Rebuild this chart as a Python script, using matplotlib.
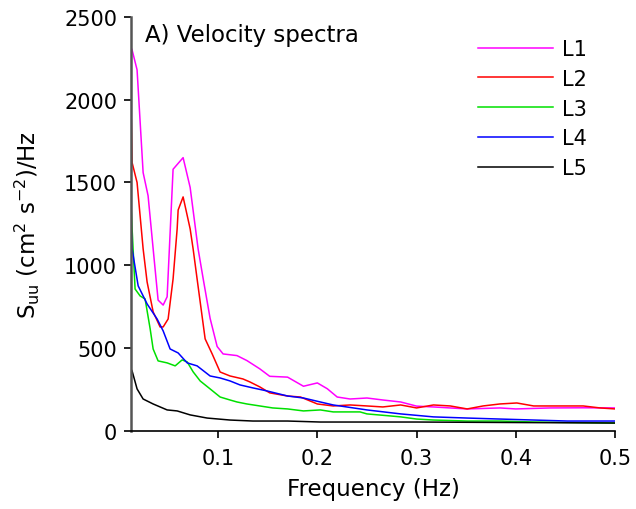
import matplotlib
matplotlib.use("Agg")
import matplotlib.pyplot as plt

plt.rcParams['font.family'] = ['DejaVu Sans']
plt.rcParams['mathtext.default'] = 'regular'

# spectra (frequency in Hz, S_uu in cm^2 s^-2 / Hz)
f1 = [0.0125, 0.0133, 0.0183, 0.0244, 0.0294, 0.0345, 0.0395, 0.0446, 0.0486, 0.0546,
      0.0647, 0.0718, 0.0798, 0.0849, 0.0919, 0.099, 0.105, 0.119, 0.129, 0.142,
      0.152, 0.170, 0.186, 0.200, 0.210, 0.220, 0.233, 0.250, 0.266, 0.284,
      0.300, 0.317, 0.351, 0.384, 0.400, 0.435, 0.468, 0.500]
s1 = [2310, 2300, 2180, 1560, 1420, 1100, 790, 760, 810, 1580,
      1650, 1470, 1100, 920, 680, 510, 465, 455, 425, 375,
      330, 325, 270, 290, 255, 205, 193, 199, 187, 175,
      150, 145, 133, 139, 133, 139, 140, 139]

f2 = [0.0125, 0.0133, 0.0183, 0.0244, 0.0284, 0.0345, 0.0415, 0.0446, 0.0496, 0.0546,
      0.0587, 0.0597, 0.0647, 0.0718, 0.0748, 0.0788, 0.0869, 0.094, 0.102, 0.112,
      0.125, 0.132, 0.142, 0.152, 0.170, 0.183, 0.200, 0.216, 0.233, 0.250,
      0.266, 0.284, 0.300, 0.317, 0.334, 0.351, 0.367, 0.384, 0.401, 0.418,
      0.435, 0.452, 0.468, 0.485, 0.500]
s2 = [1880, 1620, 1500, 1100, 900, 719, 628, 628, 676, 918,
      1220, 1334, 1413, 1220, 1099, 918, 556, 465, 356, 332,
      314, 296, 266, 230, 211, 205, 163, 151, 157, 151,
      145, 157, 139, 157, 151, 133, 151, 163, 169, 151,
      151, 151, 151, 139, 133]

f3 = [0.0125, 0.0133, 0.0163, 0.0214, 0.0264, 0.0315, 0.0345, 0.0395, 0.0486, 0.0567,
      0.0637, 0.0688, 0.0748, 0.0819, 0.0919, 0.102, 0.112, 0.119, 0.129, 0.142,
      0.155, 0.170, 0.186, 0.203, 0.216, 0.243, 0.250, 0.273, 0.284, 0.300,
      0.317, 0.351, 0.384, 0.418, 0.500]
s3 = [1330, 1220, 857, 815, 797, 616, 495, 423, 411, 393,
      429, 417, 357, 302, 254, 205, 187, 175, 163, 151,
      139, 133, 121, 127, 115, 115, 103, 91, 85, 72,
      66, 60, 60, 54, 48]

f4 = [0.0125, 0.0133, 0.0194, 0.0284, 0.0385, 0.0446, 0.0516, 0.0597, 0.0688, 0.0788,
      0.0919, 0.102, 0.112, 0.122, 0.135, 0.149, 0.170, 0.186, 0.203, 0.216,
      0.250, 0.284, 0.317, 0.351, 0.384, 0.418, 0.452, 0.500]
s4 = [1200, 1099, 876, 767, 676, 604, 495, 471, 411, 393,
      332, 320, 302, 278, 260, 242, 211, 199, 175, 157,
      127, 103, 85, 78, 72, 66, 60, 60]

f5 = [0.0125, 0.0133, 0.0183, 0.0244, 0.0345, 0.0486, 0.0587, 0.0718, 0.0889, 0.112,
      0.135, 0.170, 0.203, 0.300, 0.500]
s5 = [370, 362, 254, 193, 163, 127, 121, 97, 78, 66,
      60, 60, 54, 54, 48]

labels = ['L1', 'L2', 'L3', 'L4', 'L5']
colors = ['#ff00ff', '#ff0000', '#00e000', '#0000ff', '#000000']

fig = plt.figure(figsize=(6.36, 5.1), dpi=100)
ax = fig.add_axes([0.206, 0.153, 0.761, 0.812])

for f, s, lab, c in zip([f1, f2, f3, f4, f5], [s1, s2, s3, s4, s5], labels, colors):
    ax.plot(f, s, color=c, lw=1.1, label=lab)

ax.set_xlim(0.0122, 0.5)
ax.set_ylim(0, 2500)
ax.set_xticks([0.1, 0.2, 0.3, 0.4, 0.5])
ax.set_xticklabels(['0.1', '0.2', '0.3', '0.4', '0.5'])
ax.set_yticks([0, 500, 1000, 1500, 2000, 2500])

ax.spines['top'].set_visible(False)
ax.spines['right'].set_visible(False)
ax.spines['left'].set_color('#555555')
ax.spines['left'].set_linewidth(1.8)
ax.spines['bottom'].set_linewidth(1.2)
ax.tick_params(direction='out', length=5, width=1.2, labelsize=15, pad=5)
ax.tick_params(axis='x', pad=7)

ax.set_xlabel('Frequency (Hz)', fontsize=16.5, labelpad=7)
ax.set_ylabel('S$_{uu}$ (cm$^2$ s$^{-2}$)/Hz', fontsize=16.5)
# right edge of the rotated label sits about 42 px from the figure edge
ax.yaxis.set_label_coords(-(131 - 42) / 484, 0.5)
ax.text(0.028, 0.985, 'A) Velocity spectra', transform=ax.transAxes,
        fontsize=16.5, va='top', ha='left')

ax.legend(loc='upper left', bbox_to_anchor=(478 / 636, 1 - 40 / 510),
          bbox_transform=fig.transFigure, frameon=False, fontsize=15,
          borderpad=0, borderaxespad=0,
          handlelength=3.6, handletextpad=0.45, labelspacing=0.47)

fig.savefig('out.png', dpi=100)
